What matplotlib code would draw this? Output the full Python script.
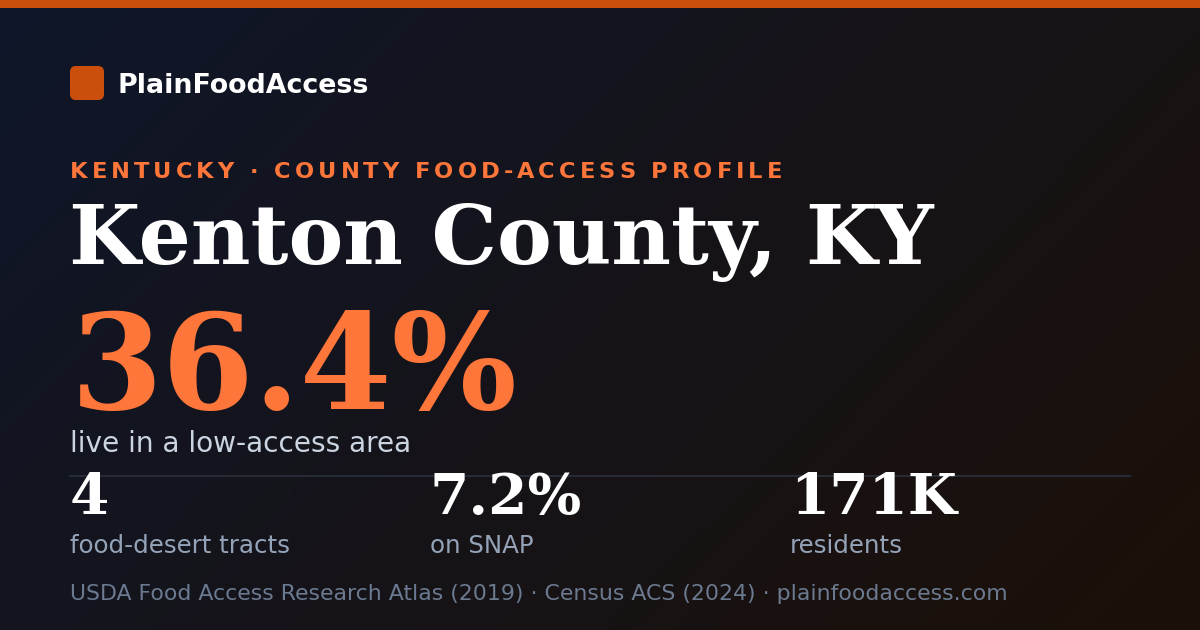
import numpy as np
import matplotlib
matplotlib.use("Agg")
import matplotlib.pyplot as plt
from matplotlib.patches import FancyBboxPatch, Rectangle
from matplotlib.colors import to_rgb
from matplotlib.font_manager import FontProperties, findfont, get_font
from matplotlib.ft2font import LOAD_NO_HINTING

# card content
brand = "PlainFoodAccess"
kicker = "KENTUCKY · COUNTY FOOD-ACCESS PROFILE"
county = "Kenton County, KY"
headline_value = "36.4%"
headline_label = "live in a low-access area"
stat_values = ["4", "7.2%", "171K"]
stat_labels = ["food-desert tracts", "on SNAP", "residents"]
source = "USDA Food Access Research Atlas (2019) · Census ACS (2024) · plainfoodaccess.com"

W, H, DPI = 1200, 630, 100
PX = 72 / DPI  # pixel -> point

ORANGE = "#ff763a"
DARK_ORANGE = "#cc4e0c"

fig = plt.figure(figsize=(W / DPI, H / DPI), dpi=DPI)
ax = fig.add_axes([0, 0, 1, 1])
ax.set_xlim(0, W)
ax.set_ylim(H, 0)
ax.axis("off")

# diagonal gradient background
c0 = np.array(to_rgb("#0f172a"))
c1 = np.array(to_rgb("#1c1008"))
xx, yy = np.meshgrid(np.linspace(0, 1, 300), np.linspace(0, 1, 160))
t = np.clip((xx * W + yy * H) / (W + H), 0, 1)[..., None]
ax.imshow(c0 + (c1 - c0) * t, extent=[0, W, H, 0], aspect="auto", zorder=0)

# top accent bar
ax.add_patch(Rectangle((0, 0), W, 8, color=DARK_ORANGE, lw=0, zorder=2))

# logo mark + brand
ax.add_patch(FancyBboxPatch((76, 72), 22, 22, boxstyle="round,pad=6",
                            color=DARK_ORANGE, lw=0, zorder=2))
ax.text(118, 93, brand, color="white", fontsize=26.9 * PX, fontweight="bold",
        family="DejaVu Sans", va="baseline", zorder=3)

# letter-spaced kicker
ksize = 22.5 * PX
kprop = FontProperties(family="DejaVu Sans", weight="bold", size=ksize)
font = get_font(findfont(kprop))
font.set_size(ksize, DPI)
adv = []
for ch in kicker:
    g = font.load_char(ord(ch), flags=LOAD_NO_HINTING)
    adv.append(g.linearHoriAdvance / 65536)
spacing = (782 - 70 - sum(adv)) / (len(kicker) - 1)
x = 70
for ch, a in zip(kicker, adv):
    ax.text(x, 178, ch, color=ORANGE, fontproperties=kprop, va="baseline", zorder=3)
    x += a + spacing

# county title
ax.text(69, 264, county, color="white", fontsize=82.2 * PX, fontweight="bold",
        family="DejaVu Serif", va="baseline", zorder=3)

# headline number
ax.text(71, 409, headline_value, color=ORANGE, fontsize=132 * PX, fontweight="bold",
        family="DejaVu Serif", va="baseline", zorder=3)
ax.text(70, 452, headline_label, color="#cbd5e1", fontsize=28 * PX,
        family="DejaVu Sans", va="baseline", zorder=3)

# divider
ax.plot([70, 1130], [476, 476], color="#262b36", lw=2 * PX, zorder=2)

# stats row
for i, (v, lab) in enumerate(zip(stat_values, stat_labels)):
    sx = 70 + i * 360
    ax.text(sx, 514, v, color="white", fontsize=56.5 * PX, fontweight="bold",
            family="DejaVu Serif", va="baseline", zorder=3)
    ax.text(sx, 553, lab, color="#94a3b8", fontsize=24.5 * PX,
            family="DejaVu Sans", va="baseline", zorder=3)

# source line
ax.text(70, 600, source, color="#6b7a90", fontsize=22 * PX,
        family="DejaVu Sans", va="baseline", zorder=3)

fig.savefig("out.png", dpi=DPI)
